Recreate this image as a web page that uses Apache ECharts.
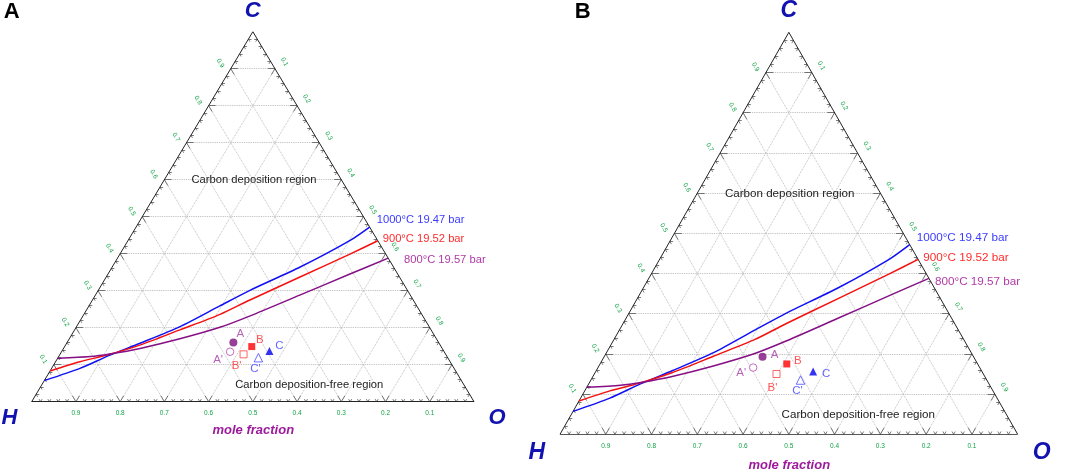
<!DOCTYPE html>
<html>
<head>
<meta charset="utf-8">
<title>C-H-O ternary diagrams</title>
<script src="https://cdn.jsdelivr.net/npm/echarts@6/dist/echarts.min.js"></script>
<style>
  html, body { margin: 0; padding: 0; background: #fff; }
  #chart { width: 1065px; height: 472px; }
</style>
</head>
<body>
<div id="chart"></div>
<script>
// compositions are mole fractions [H, C, O]
const ticks = [0.1, 0.2, 0.3, 0.4, 0.5, 0.6, 0.7, 0.8, 0.9];

// carbon deposition boundaries (same in both panels)
const line1000 = [[0.943, 0.057, 0], [0.846, 0.090, 0.064], [0.760, 0.126, 0.114], [0.676, 0.158, 0.166],
  [0.563, 0.203, 0.234], [0.445, 0.259, 0.296], [0.356, 0.301, 0.343], [0.211, 0.364, 0.425],
  [0.062, 0.436, 0.502], [0, 0.472, 0.528]];
const line900 = [[0.917, 0.083, 0], [0.837, 0.108, 0.055], [0.767, 0.126, 0.107], [0.679, 0.153, 0.168],
  [0.568, 0.194, 0.238], [0.456, 0.236, 0.308], [0.369, 0.275, 0.356], [0.225, 0.337, 0.438],
  [0.081, 0.399, 0.520], [0, 0.435, 0.565]];
const line800 = [[0.883, 0.117, 0], [0.807, 0.122, 0.071], [0.759, 0.129, 0.112], [0.683, 0.144, 0.173],
  [0.580, 0.170, 0.250], [0.474, 0.201, 0.325], [0.390, 0.232, 0.378], [0.250, 0.288, 0.462],
  [0.108, 0.345, 0.547], [0, 0.388, 0.612]];

const markerNames = ['A', "A'", 'B', "B'", 'C', "C'"];
const markersA = [[0.464, 0.160, 0.376], [0.484, 0.135, 0.381], [0.428, 0.149, 0.423],
  [0.457, 0.128, 0.415], [0.394, 0.137, 0.469], [0.428, 0.119, 0.453]];
const markersB = [[0.461, 0.193, 0.346], [0.495, 0.166, 0.339], [0.417, 0.175, 0.408],
  [0.452, 0.150, 0.398], [0.369, 0.156, 0.475], [0.407, 0.135, 0.458]];

// ---- styles ----
const FONT = 'Liberation Sans, Arial, sans-serif';
const markerLook = [
  { symbol: 'circle', size: 8, fill: '#7d0f7d', stroke: '#7d0f7d', bw: 0, text: '#a53ca5' },
  { symbol: 'circle', size: 7.5, fill: '#fff', stroke: '#b548b5', bw: 1, text: '#a53ca5' },
  { symbol: 'rect', size: 7, fill: '#f00', stroke: '#f00', bw: 0, text: '#ff2d2d' },
  { symbol: 'rect', size: 7, fill: '#fff', stroke: '#ff4040', bw: 1, text: '#ff2d2d' },
  { symbol: 'triangle', size: 8, fill: '#0000f0', stroke: '#0000f0', bw: 0, text: '#3c3cff' },
  { symbol: 'triangle', size: 8.5, fill: '#fff', stroke: '#4a4aff', bw: 1, text: '#3c3cff' }
];

// [H, C, O] -> cartesian value on the hidden axes (base = 1, height = 1)
const tern = p => [p[2] + p[1] / 2, p[1]];

const panels = [
  {
    grid: { left: 31.7, top: 31.7, width: 442.3, height: 370 },
    markers: markersA,
    shift: [[7, -9], [-12, 8], [8, -7], [-7, 11], [10, -5], [-3, 11]]
  },
  {
    grid: { left: 560, top: 32.3, width: 457.7, height: 402 },
    markers: markersB,
    shift: [[12, -2], [-12, 5], [11, -3], [-4, 14], [13, 2], [-3, 11]]
  }
];

// dotted grid lines
const gridSegs = [];
ticks.forEach(k => {
  gridSegs.push([[1 - k, k, 0], [0, k, 1 - k]]);
  gridSegs.push([[1 - k, 0, k], [0, 1 - k, k]]);
  gridSegs.push([[k, 0, 1 - k], [k, 1 - k, 0]]);
});

// chevron ticks every 0.02
const tickSegs = [];
for (let i = 1; i < 50; i++) {
  const t = i / 50;
  const d = i % 5 === 0 ? 0.016 : 0.007;
  const L = [1 - t, t, 0], B = [1 - t, 0, t], R = [0, t, 1 - t];
  tickSegs.push([L, [1 - t - d, t, d]], [L, [1 - t, t - d, d]]);
  tickSegs.push([B, [1 - t - d, d, t]], [B, [1 - t, d, t - d]]);
  tickSegs.push([R, [d, t, 1 - t - d]], [R, [d, t - d, 1 - t]]);
}

const edgeSegs = [[[1, 0, 0], [0, 0, 1]], [[0, 0, 1], [0, 1, 0]], [[0, 1, 0], [1, 0, 0]]];

// tick label items: point, text, side
const tickLabels = [];
ticks.forEach(v => {
  const s = v.toFixed(1);
  tickLabels.push({ p: [v, 0, 1 - v], text: s, side: 'b' });
  tickLabels.push({ p: [1 - v, v, 0], text: s, side: 'l' });
  tickLabels.push({ p: [0, 1 - v, v], text: s, side: 'r' });
});
const sideShift = { b: [0, 11.5], l: [-10.5, -5.5], r: [9.5, -6.8] };

const curves = [
  { name: '1000', data: line1000, color: '#1010f5' },
  { name: '900', data: line900, color: '#f51010' },
  { name: '800', data: line800, color: '#850f85' }
];

const series = [];
panels.forEach((pn, i) => {
  const axes = { xAxisIndex: i, yAxisIndex: i };
  series.push({
    type: 'lines', coordinateSystem: 'cartesian2d', ...axes, silent: true, z: 1,
    lineStyle: { color: '#b4b4b4', width: 0.9, type: 'dotted', opacity: 1 },
    data: gridSegs.map(s => ({ coords: s.map(tern) }))
  });
  series.push({
    type: 'lines', coordinateSystem: 'cartesian2d', ...axes, silent: true, z: 2,
    lineStyle: { color: '#444', width: 0.7, opacity: 1 },
    data: tickSegs.map(s => ({ coords: s.map(tern) }))
  });
  series.push({
    type: 'lines', coordinateSystem: 'cartesian2d', ...axes, silent: true, z: 3,
    lineStyle: { color: '#222', width: 1, opacity: 1 },
    data: edgeSegs.map(s => ({ coords: s.map(tern) }))
  });
  series.push({
    type: 'custom', coordinateSystem: 'cartesian2d', ...axes, silent: true, z: 3,
    data: tickLabels.map(t => tern(t.p)),
    renderItem: (params, api) => {
      const t = tickLabels[params.dataIndex];
      const pt = api.coord([api.value(0), api.value(1)]);
      const sh = sideShift[t.side];
      return {
        type: 'text', x: pt[0] + sh[0], y: pt[1] + sh[1],
        rotation: t.side === 'b' ? 0 : -Math.PI / 3,
        style: { text: t.text, fill: '#11a344', fontSize: 6.5, fontFamily: FONT, align: 'center', verticalAlign: 'middle' }
      };
    }
  });
  curves.forEach(c => {
    series.push({
      type: 'line', ...axes, data: c.data.map(tern), showSymbol: false, symbol: 'none',
      smooth: 0.25, clip: false, z: 4, silent: true,
      lineStyle: { color: c.color, width: 1.5 }
    });
  });
  series.push({
    type: 'scatter', ...axes, z: 5, silent: true,
    data: pn.markers.map((m, j) => {
      const lk = markerLook[j];
      return {
        value: tern(m),
        symbol: lk.symbol,
        symbolSize: lk.size,
        itemStyle: { color: lk.fill, borderColor: lk.stroke, borderWidth: lk.bw },
        label: {
          show: true, formatter: markerNames[j], position: 'inside', offset: pn.shift[j],
          color: lk.text, fontSize: 11.5, fontFamily: FONT
        }
      };
    })
  });
});

function txt(x, y, text, opt) {
  return {
    type: 'text', x, y, z: 10, silent: true,
    style: Object.assign({ text, fontFamily: FONT, align: 'center', verticalAlign: 'middle', fill: '#222' }, opt)
  };
}
const vtx = { fill: '#1212b0', fontWeight: 'bold', fontStyle: 'italic' };
const mole = { fill: '#9c1a9c', fontWeight: 'bold', fontStyle: 'italic', fontSize: 13 };

const graphic = [
  txt(11.7, 12, 'A', { fill: '#000', fontWeight: 'bold', fontSize: 22 }),
  txt(252.7, 11, 'C', Object.assign({ fontSize: 22 }, vtx)),
  txt(9.5, 418.3, 'H', Object.assign({ fontSize: 22 }, vtx)),
  txt(497, 418.3, 'O', Object.assign({ fontSize: 22 }, vtx)),
  txt(253.3, 430.7, 'mole fraction', mole),
  txt(254, 180, 'Carbon deposition region', { fontSize: 11.2 }),
  txt(309.3, 385, 'Carbon deposition-free region', { fontSize: 11.2 }),
  txt(376.7, 220, '1000°C 19.47 bar', { align: 'left', fontSize: 11.2, fill: '#3b3bff' }),
  txt(382.7, 239, '900°C 19.52 bar', { align: 'left', fontSize: 11.2, fill: '#ff2b2b' }),
  txt(404, 260, '800°C 19.57 bar', { align: 'left', fontSize: 11.2, fill: '#b03aa6' }),

  txt(582.7, 12, 'B', { fill: '#000', fontWeight: 'bold', fontSize: 22 }),
  txt(788.7, 11, 'C', Object.assign({ fontSize: 23 }, vtx)),
  txt(536.7, 452.3, 'H', Object.assign({ fontSize: 23 }, vtx)),
  txt(1041.7, 452.3, 'O', Object.assign({ fontSize: 23 }, vtx)),
  txt(789.3, 465, 'mole fraction', mole),
  txt(789.7, 193.3, 'Carbon deposition region', { fontSize: 11.6 }),
  txt(858.3, 414.3, 'Carbon deposition-free region', { fontSize: 11.6 }),
  txt(916.7, 237.7, '1000°C 19.47 bar', { align: 'left', fontSize: 11.7, fill: '#3b3bff' }),
  txt(923.3, 257.7, '900°C 19.52 bar', { align: 'left', fontSize: 11.7, fill: '#ff2b2b' }),
  txt(935, 281.7, '800°C 19.57 bar', { align: 'left', fontSize: 11.7, fill: '#b03aa6' })
];

const chart = echarts.init(document.getElementById('chart'), null, { renderer: 'canvas' });
chart.setOption({
  animation: false,
  backgroundColor: '#fff',
  grid: panels.map(p => p.grid),
  xAxis: panels.map((p, i) => ({ type: 'value', gridIndex: i, min: 0, max: 1, show: false })),
  yAxis: panels.map((p, i) => ({ type: 'value', gridIndex: i, min: 0, max: 1, show: false })),
  series,
  graphic
});
</script>
</body>
</html>
